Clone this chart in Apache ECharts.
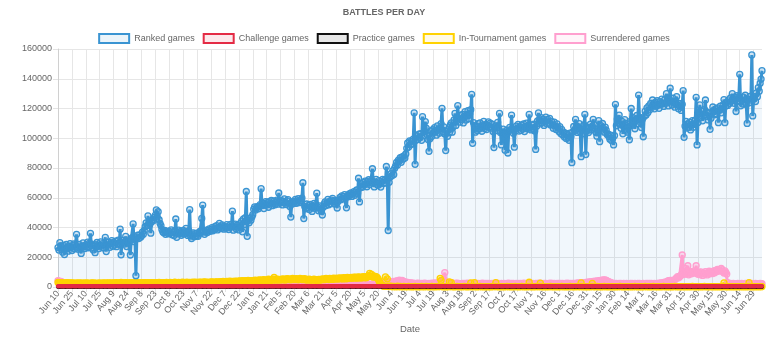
<!DOCTYPE html>
<html>
<head>
<meta charset="utf-8">
<script src="https://cdn.jsdelivr.net/npm/echarts@6/dist/echarts.min.js"></script>
<style>
  html, body { margin: 0; padding: 0; background: #fff; }
  #chart { width: 768px; height: 337px; }
</style>
</head>
<body>
<div id="chart"></div>
<script>
// Daily counts, one value per day starting at Jun 10, 2019.
const firstDay = Date.UTC(2019, 5, 10);
const monthNames = ['Jan', 'Feb', 'Mar', 'Apr', 'May', 'Jun', 'Jul', 'Aug', 'Sep', 'Oct', 'Nov', 'Dec'];
const seriesNames = ['Ranked games', 'Challenge games', 'Practice games', 'In-Tournament games', 'Surrendered games'];

const ranked = [
  26500,24800,29800,27600,25200,23400,27900,21800,26300,28600,25700,24100,27300,29200,26800,
  24500,27800,28900,25600,26800,35400,27200,25300,28700,26100,22600,27400,29600,26900,25800,
  28300,27100,30200,26400,29500,36100,28800,26200,24900,27600,23100,28400,29900,27300,25800,
  28100,30400,27500,29200,26300,28700,33400,23800,27900,30100,28500,26700,29800,31200,27400,
  29600,28200,30800,27100,29300,31500,28600,38900,21600,29800,31400,30200,28900,34100,27200,
  31500,29800,30600,21500,32400,33100,42400,30500,32000,7600,33200,34800,32600,35100,33400,
  34300,36800,35500,38200,40600,43100,41200,47800,44300,42100,36200,43800,45200,44700,46900,
  48300,51800,47100,50600,45200,42800,41300,38600,37200,36500,38100,35400,37600,36900,35800,
  37300,36100,38400,35200,36800,34600,37900,45700,33400,36700,38200,35900,37400,34800,36300,
  38100,35600,37200,39400,36100,34700,37800,52000,34200,32600,35100,36400,33800,35900,34300,
  36200,34100,35600,37300,36800,46100,55100,36900,35400,37100,38200,36600,37900,39100,37400,
  38600,39900,37800,38700,40500,39200,41300,38400,39700,42800,40600,39300,41700,40200,38900,
  40800,39500,41900,40300,38600,39900,42100,40700,51000,38200,40600,42300,39100,41500,40200,
  38400,42600,39800,44300,37100,45800,41900,46700,64200,34100,44800,43200,46300,44900,47100,
  48600,52300,53800,51700,53200,54100,52600,53900,55400,66100,54800,56300,52700,55900,57400,
  55200,56800,53600,57300,55900,58200,54700,56100,57800,55300,56900,58400,55700,63200,57100,
  56400,58100,55200,57600,59300,56800,55400,57900,58700,56200,54100,47000,55800,57300,56100,
  57600,58900,56300,57800,59400,56700,58200,57100,59800,70100,46000,54200,52600,55800,53400,
  54900,52100,55600,53700,50800,54300,56200,52900,55400,63100,53800,51200,54600,52300,50900,
  48400,53600,55900,57200,54800,56600,58900,55300,57700,56100,58400,59600,57300,55800,58100,
  56900,53100,57400,58600,60200,58700,61300,59400,60800,62100,59900,53200,61400,60700,62600,
  61800,63200,60900,62700,64100,61600,63800,65200,62900,73100,57200,66800,69400,67100,70300,
  68600,71200,69300,67400,70800,72100,68900,70400,71700,79500,69800,67300,70600,72400,69100,
  68400,71500,69700,67200,70900,72300,69600,71800,70200,81000,72600,38000,70400,73900,76200,
  74800,78300,75600,79900,81400,83700,82100,85300,84600,86900,83800,87500,85900,88200,86700,
  89400,93200,96800,94100,98300,95700,97900,96200,99400,117100,82500,98700,101600,99200,102800,
  100400,103100,98600,114500,101700,104300,111200,106800,102400,99100,91200,99600,104900,101300,105700,
  103800,107200,104600,102100,108300,105900,103400,106700,109800,120100,104200,107600,102900,91700,104800,
  101300,106200,103700,108900,110400,104100,107500,112300,116700,108600,111900,122000,113400,110800,115200,
  112600,116100,110300,114700,117900,112200,115800,118600,113100,116400,119200,129500,96600,110500,108300,
  104100,107600,105200,109800,106300,110400,108100,104700,107900,111300,106500,109200,105800,108700,111000,
  107400,110200,106800,109500,104600,93700,106900,108300,105100,110700,107200,116700,103900,95500,104200,
  106100,101800,92000,103600,105400,90100,104700,107300,105800,115600,106200,103400,94000,105900,108100,
  106700,109300,104800,107600,105300,108900,106200,109700,104500,107100,110200,106400,108500,116000,107300,
  105600,108800,106300,109400,104900,92500,108100,111600,117000,112300,109700,113800,110400,112900,108600,
  111500,114200,109800,112700,110100,113300,108900,111400,109200,106700,110800,108300,105900,109600,107100,
  104600,107800,103200,105900,102400,104100,100900,103500,99800,102700,100300,98600,103400,101200,83600,
  104300,107900,105100,112700,108400,103900,106700,109800,104200,87600,102800,106100,108900,116100,89000,
  104700,107300,103800,106900,109400,105600,108200,112700,109100,106300,103900,101400,105000,111800,97700,
  108600,105300,109900,106700,104100,107500,105500,102600,103000,101200,99400,102100,98300,100000,95500,
  101800,122800,108400,112900,110200,115600,109300,106800,111400,103000,107700,112500,105400,109900,104100,
  107600,99000,111300,120000,108700,113900,110200,106400,112600,115300,109800,129000,114100,110600,107200,
  112800,101000,114600,118200,115700,120400,117300,121800,119100,123400,120600,125700,122300,119800,124100,
  121500,125200,122600,120100,124600,122900,126300,123100,121400,125800,123600,130000,124200,121700,126500,
  133600,124800,122300,126900,123700,120900,125100,128000,122600,119800,123400,121200,118700,122800,132000,
  100600,108200,111400,106900,109700,107300,110800,105600,108900,111900,107400,109300,112100,127500,95500,
  110600,116800,122400,113900,118200,111700,115600,119300,125700,114800,117500,112300,116900,106000,113400,
  117200,121000,118500,115800,119700,116300,120400,110500,118900,121600,117100,119900,122400,126000,110500,
  121700,124300,122100,125800,123400,127200,124900,130000,126100,123500,127600,118000,128700,124800,127900,
  143000,121800,125400,123100,127600,124300,128900,122700,110000,126200,123800,128100,125600,156000,115000,
  126300,128000,124700,130500,127900,134100,131600,137000,139800,145400
];

const challenge = [
  500,500,600,500,500,500,500,500,600,500,500,500,500,500,500,
  500,600,500,500,500,500,600,500,500,500,500,500,500,600,500,
  500,500,500,500,500,600,500,500,500,600,500,500,500,500,500,
  500,500,500,500,600,500,500,500,600,500,500,500,500,500,500,
  500,500,500,600,500,500,500,500,500,500,600,500,500,500,500,
  600,500,500,500,500,500,500,600,500,500,500,500,600,500,500,
  500,500,600,500,500,500,500,500,500,600,500,500,500,500,600,
  500,500,500,500,500,600,500,500,500,500,500,600,500,500,500,
  500,600,500,500,500,500,500,500,600,500,500,500,500,500,500,
  500,500,500,600,500,500,500,600,500,500,500,500,500,600,500,
  500,500,500,500,500,500,600,500,500,500,600,500,500,500,500,
  600,500,500,500,500,500,500,500,600,500,500,500,500,500,500,
  500,500,600,500,500,600,500,500,500,500,500,500,600,500,500,
  500,500,500,500,600,500,500,500,500,600,500,500,500,500,500,
  500,600,500,500,500,500,500,600,500,500,500,500,500,600,500,
  500,500,500,600,500,500,500,500,500,500,600,500,500,500,500,
  600,500,500,500,500,600,500,500,500,500,500,500,600,500,500,
  500,500,600,500,500,500,500,500,600,500,500,500,500,500,600,
  500,500,500,500,500,600,500,500,500,600,500,500,500,500,500,
  500,600,500,500,500,500,500,500,500,500,600,500,500,600,500,
  500,500,500,600,500,500,500,600,500,500,500,500,500,500,500,
  600,500,500,500,500,500,600,500,500,500,500,600,500,500,500,
  500,500,600,500,500,500,500,500,500,600,500,500,500,500,600,
  500,500,500,500,600,500,500,500,500,500,500,600,500,500,500,
  500,600,500,500,500,500,600,500,500,500,500,500,500,600,500,
  500,500,500,600,500,500,500,500,600,500,500,500,500,500,500,
  600,500,500,500,500,500,500,600,500,500,500,600,500,500,500,
  500,500,600,500,500,500,500,500,500,500,600,500,500,500,600,
  500,500,500,500,600,500,500,500,600,500,500,500,500,500,500,
  500,600,500,500,500,500,500,600,500,500,500,500,600,500,500,
  500,500,500,600,500,500,500,500,500,600,500,500,500,500,500,
  600,500,500,500,500,600,500,500,500,500,500,600,500,500,500,
  500,500,600,500,500,500,500,600,500,500,500,500,500,500,600,
  500,500,500,500,600,500,500,500,500,500,600,500,500,500,500,
  500,600,500,500,500,500,600,500,500,500,500,500,600,500,500,
  500,500,500,600,500,500,500,500,600,500,500,500,500,500,500,
  600,500,500,500,500,500,500,600,500,500,600,500,500,500,500,
  500,500,600,500,500,600,500,500,500,500,500,500,500,600,500,
  500,500,500,500,600,500,500,500,500,600,500,500,500,500,500,
  500,600,500,500,500,500,500,600,500,500,500,500,600,500,500,
  500,500,500,600,500,500,500,500,500,500,600,500,500,500,600,
  600,500,500,500,500,600,500,500,500,500,500,500,600,500,500,
  500,500,600,500,500,500,500,600,500,500,500,600,500,500,500,
  500,500,500,500,600,500,500,500,500,600,500,500,500,500,500,
  500,600,500,500,500,500,600,500,500,500,500,500,500,600,500,
  500,500,500,600,500,500,500,500,600,500,500,500,500,500,500,
  600,500,500,500,500,500,500,600,500,500,600,500,500,500,500,
  500,500,600,500,500,500,500,500,500,500,500,600,500,500,500,
  500,500,500,500,600,500,500,500,600,500,500,500,500,600,500,
  500,600,500,500,500,500,500,500,500,600,500,500,500,500,500,
  500,500,500,600,500,500,500,500,500,500
];

const practice = [
  100,100,200,100,100,100,200,100,100,100,200,100,100,200,100,
  100,200,100,100,100,200,100,100,200,100,100,100,200,100,100,
  200,100,100,100,200,100,100,200,100,100,100,200,100,100,100,
  100,100,200,100,100,200,100,100,100,200,100,100,100,200,100,
  100,200,100,100,100,100,200,100,100,200,100,100,200,100,100,
  200,100,100,200,100,100,100,200,100,100,100,200,100,100,200,
  100,100,100,200,100,100,200,100,100,100,200,100,100,200,100,
  100,200,100,100,200,100,100,100,200,100,100,100,200,100,100,
  200,100,100,100,100,200,100,100,200,100,100,200,100,100,100,
  100,100,200,100,100,100,200,100,100,200,100,100,100,200,100,
  100,200,100,100,200,100,100,100,100,200,100,100,200,100,100,
  200,100,100,100,200,100,100,200,100,100,100,200,100,100,200,
  100,100,200,100,100,200,100,100,100,200,100,100,100,200,100,
  100,200,100,100,100,100,200,100,100,200,100,100,200,100,100,
  200,100,100,200,100,100,100,200,100,100,200,100,100,100,200,
  100,100,100,200,100,100,200,100,100,100,100,200,100,100,100,
  100,200,100,100,200,100,100,100,200,100,100,200,100,100,200,
  200,100,100,100,100,200,100,100,200,100,100,100,200,100,100,
  100,100,200,100,100,100,200,100,100,200,100,100,100,200,100,
  100,200,100,100,200,100,100,200,100,100,100,100,200,100,100,
  200,100,100,100,200,100,100,100,200,100,100,200,100,100,100,
  100,100,200,100,100,200,100,100,100,200,100,100,200,100,200,
  100,200,100,100,100,100,200,100,100,100,200,100,100,100,100,
  200,100,100,200,100,100,100,200,100,100,100,200,100,100,200,
  100,100,100,200,100,100,200,100,100,200,100,100,100,200,100,
  100,200,100,100,200,100,100,100,100,200,100,100,200,100,100,
  200,100,100,100,100,200,100,100,200,100,100,100,200,100,100,
  100,100,200,100,100,100,200,100,100,200,100,100,100,200,100,
  100,200,100,100,200,100,100,200,100,100,100,200,100,100,200,
  200,100,100,100,100,200,100,100,100,200,100,100,100,100,100,
  100,100,200,100,100,200,100,100,200,100,100,100,200,100,100,
  100,200,100,100,100,100,200,100,100,100,200,100,100,200,100,
  200,100,100,200,100,100,100,200,100,100,100,200,100,100,100,
  100,100,100,200,100,100,200,100,100,200,100,100,200,100,100,
  100,200,100,100,200,100,100,100,200,100,100,100,100,200,100,
  200,100,100,100,100,200,100,100,100,200,100,100,200,100,100,
  100,100,200,100,100,100,200,100,100,100,200,100,100,100,200,
  100,200,100,100,200,100,100,200,100,100,100,200,100,100,100,
  200,100,100,100,100,200,100,100,200,100,100,100,200,100,100,
  100,100,200,100,100,100,200,100,100,200,100,100,100,200,100,
  100,200,100,100,200,100,100,100,100,200,100,100,200,100,100,
  200,100,100,100,200,100,100,200,100,100,100,200,100,100,200,
  100,100,200,100,100,200,100,100,100,200,100,100,100,100,100,
  100,200,100,100,100,100,200,100,100,100,200,100,100,200,100,
  200,100,100,200,100,100,100,200,100,100,100,200,100,100,100,
  100,100,100,200,100,100,200,100,100,200,100,100,200,100,100,
  100,200,100,100,200,100,100,100,200,100,100,100,100,200,100,
  200,100,100,100,100,200,100,100,100,200,100,100,200,100,100,
  100,100,200,100,100,100,200,100,100,100,200,100,100,100,200,
  100,200,100,100,200,100,100,200,100,100,100,200,100,100,100,
  200,100,100,100,100,200,100,100,200,100
];

const tournament = [
  3100,2800,2600,2900,2700,2500,2800,2600,2400,2700,2900,2600,2500,2800,2700,
  2600,2400,2700,2500,2300,2600,2800,2500,2400,2700,2600,2300,2500,2700,2400,
  2500,2700,2400,2600,2300,2500,2800,2600,2400,2700,2500,2300,2600,2400,2500,
  2700,2500,2300,2600,2800,2500,2400,2700,2600,2400,2800,2500,2700,2400,2600,
  2800,2600,2500,2900,2700,2400,2600,2800,3100,2700,2500,2800,2600,2900,2700,
  2600,2800,2500,2700,2900,2600,2400,2800,3000,2700,2500,2900,2700,2600,2800,
  2700,2900,2600,2800,3000,2700,2500,2900,2800,2600,3000,2700,2900,2600,2800,
  3000,2800,2600,2900,3100,2700,2900,2600,2800,3000,2700,2900,3100,2800,2600,
  2900,3100,2800,3000,2700,2900,3200,2800,3000,2700,3100,2900,2800,3000,3200,
  2900,3100,2800,3000,3300,2900,2700,3100,3000,2800,3200,2900,3100,3300,3000,
  3100,2900,3200,3000,3300,3100,2900,3200,3400,3000,3200,3100,2900,3300,3100,
  3200,3400,3100,3300,3000,3500,3200,3400,3100,3300,3600,3200,3400,3700,3300,
  3500,3300,3700,3400,3600,3900,3500,3700,3400,3800,3600,4000,3700,3500,3900,
  3800,4100,3700,3900,4200,3800,4000,4300,3900,4100,4400,4000,4200,3900,4300,
  4100,4400,4200,4600,4300,4100,4500,4800,4400,4200,4700,4500,4900,4300,4600,
  4400,4800,5200,4600,4900,4500,5100,4700,6400,5000,4600,5300,4800,5100,4700,
  4900,5300,4800,5500,5000,4700,5200,5600,4900,5400,5100,4800,5300,5700,5000,
  5400,5000,5600,5200,4800,5300,5700,5100,5500,4900,5200,5600,5000,4700,5100,
  4800,5200,4700,5000,4600,4900,5300,4800,4500,5000,4700,5100,4600,4900,5200,
  5000,5400,4900,5300,5700,5100,5500,5000,5800,5300,5600,5100,5900,5400,5700,
  5500,5900,5300,5800,6200,5600,6000,5400,6300,5700,6100,5500,6400,5900,6200,
  6000,6500,5800,6300,6700,6100,6600,5900,6400,6800,6200,6700,6000,6500,6900,
  6300,6800,6200,6600,7100,7600,9200,7200,8400,7000,6600,7300,6800,7000,6500,
  5600,4200,3100,2000,1200,800,600,500,6800,400,5500,600,300,400,500,
  300,200,400,300,200,300,500,200,300,400,200,300,200,400,300,
  200,300,200,400,300,200,300,200,300,200,400,300,200,300,200,
  300,200,400,200,300,200,300,400,200,300,200,300,200,400,300,
  200,300,200,300,400,200,300,5800,4500,300,200,300,200,300,200,
  300,200,3500,300,3000,200,300,200,300,200,400,300,200,300,200,
  300,200,300,400,200,300,200,300,200,300,2800,200,300,200,3000,
  200,300,200,300,200,400,300,200,300,200,300,200,300,200,300,
  200,300,200,300,200,400,300,3000,200,300,200,300,200,300,200,
  300,200,300,200,400,300,200,300,200,300,200,300,200,400,300,
  200,300,200,300,200,400,300,200,300,200,300,200,300,3200,200,
  300,200,300,200,300,200,400,300,200,300,2600,200,300,200,300,
  200,300,200,300,200,300,400,200,300,200,300,200,300,200,300,
  200,300,200,400,300,200,300,200,300,200,300,200,400,300,200,
  300,200,300,200,300,400,200,300,200,2800,300,200,300,200,300,
  200,300,200,300,200,300,2500,200,300,200,300,400,200,300,200,
  300,200,300,200,400,300,200,300,200,300,200,300,200,300,200,
  200,300,200,300,200,300,400,200,300,200,300,200,300,200,300,
  300,200,300,200,300,200,300,400,200,300,200,300,200,300,200,
  200,300,200,400,300,200,300,200,300,200,300,200,400,300,200,
  300,200,300,200,300,200,300,200,400,300,200,300,200,300,200,
  200,300,200,300,200,400,300,200,300,200,300,200,300,200,300,
  300,200,300,200,300,200,300,200,300,400,200,300,200,300,200,
  200,300,200,300,200,300,200,400,300,200,300,200,300,200,300,
  300,200,300,200,300,200,300,200,300,200,300,200,300,2800,300,
  200,200,300,200,300,200,300,200,300,200,300,200,300,200,300,
  300,200,300,200,300,200,300,200,300,200,3000,200,300,200,300,
  200,300,200,300,200,300,200,300,200,300
];

const surrendered = [
  4200,3900,3600,3800,3400,3100,2700,2400,2200,2000,1900,2100,1800,1700,1900,
  1800,1600,1900,1700,1800,2000,1700,1600,1800,1900,1700,1800,1600,1900,1700,
  1700,1900,1600,1800,1700,1900,1800,1600,1700,1900,1800,1700,1600,1800,1900,
  1600,1800,1700,1900,1600,1800,1700,1900,1800,1600,1700,1800,1900,1700,1600,
  1800,1700,1900,1600,1800,1700,1600,1900,1800,1700,1900,1600,1800,1700,1800,
  1700,1900,1800,1600,1700,1900,1800,1700,1600,1800,1700,1900,1600,1800,1700,
  1900,1600,1800,1700,1900,1800,1600,1700,1800,1900,1700,1600,1800,1900,1700,
  1600,1800,1900,1700,1600,1800,1700,1900,1600,1800,1900,1700,1800,1600,1800,
  1800,1700,1600,1900,1800,1700,1900,1600,1800,1700,1600,1800,1900,1700,1600,
  1700,1900,1800,1600,1700,1800,1600,1900,1700,1800,1900,1700,1600,1800,1700,
  1900,1700,1600,1800,1900,1700,1800,1600,1700,1900,1800,1600,1700,1800,1900,
  1600,1800,1700,1900,1600,1700,1800,1900,1600,1800,1700,1900,1800,1700,1600,
  1800,1600,1900,1700,1800,1600,1700,1800,1900,1700,1600,1800,1700,1900,1800,
  1700,1800,1600,1900,1700,1800,1900,1700,1600,1800,1900,1700,1600,1800,1700,
  1900,1700,1800,1600,1800,1900,1700,1600,1800,1700,1800,1900,1700,1600,1900,
  1600,1900,1700,1800,1600,1700,1900,1800,1700,1600,1800,1700,1900,1800,1600,
  1800,1700,1600,1900,1700,1800,1600,1700,1900,1800,1700,1600,1800,1900,1700,
  1700,1800,1900,1600,1800,1700,1800,1900,1700,1600,1900,1800,1700,1600,1800,
  1900,1600,1800,1700,1900,1800,1700,1600,1800,1900,1700,1800,1600,1700,1900,
  1600,1800,1700,1900,1800,1600,1900,1700,1800,1700,1600,1900,1800,1700,1800,
  1800,1700,1900,1600,1700,1900,1800,1700,1600,1800,1900,1700,1800,1600,1700,
  1700,1900,1600,1800,1900,1700,1600,1800,1700,1900,1800,1600,1700,1900,1800,
  1900,1700,1800,1600,1800,1700,1900,1800,1700,1600,1800,1900,1700,1800,2000,
  2300,2600,2400,2800,2500,2900,2700,3100,2800,3000,3300,2900,3200,3500,3100,
  3400,3700,3200,3600,3900,3500,4200,3800,4600,4100,3700,4400,3900,3600,3300,
  3000,3200,2800,2600,2900,2500,2700,2400,2600,2300,2500,2200,2400,2600,2300,
  2500,2200,2400,2100,2300,2600,2200,2400,2000,2300,2500,2100,2300,2600,2200,
  2400,2700,2300,2500,2800,2400,2600,3100,2900,3400,4100,5200,9700,3600,2800,
  2500,2300,2600,2200,2400,2700,2300,2500,2100,2400,2600,2200,2500,2300,2100,
  2300,2500,2200,2400,2000,2300,2600,2200,2400,2100,2300,2500,2200,2000,2300,
  2200,2400,2100,2500,2300,2000,2400,2200,2600,2300,2100,2400,2200,2500,2300,
  2400,2100,2300,2500,2200,2400,2000,2300,2600,2200,2400,2100,2300,2500,2200,
  2300,2500,2200,2000,2400,2300,2600,2100,2300,2400,2200,2500,2300,2100,2400,
  2100,2300,2500,2200,2400,2100,2300,2600,2200,2400,2300,2100,2500,2200,2400,
  2500,2200,2400,2300,2100,2500,2200,2400,2300,2600,2200,2400,2100,2300,2500,
  2200,2400,2100,2300,2500,2200,2600,2300,2400,2200,2500,2300,2100,2400,2200,
  2400,2300,2500,2200,2400,2100,2300,2500,2200,2600,2300,2400,2200,2500,2300,
  2400,2200,2500,2300,2600,2400,2700,2500,2800,2600,2900,2700,3000,2800,3100,
  3000,3300,3100,3400,3200,3600,3300,3700,3500,3900,3600,4100,3800,4300,4000,
  4400,4200,4600,4700,4400,4800,4500,4100,3800,3500,3200,2900,2700,2500,2300,
  2400,2200,2500,2300,2100,2400,2200,2500,2300,2100,2400,2200,2300,2500,2200,
  2300,2100,2400,2200,2500,2300,2100,2400,2200,2300,2500,2200,2400,2100,2300,
  2200,2400,2300,2100,2500,2200,2400,2300,2500,2200,2400,2100,2300,2500,2200,
  2300,2500,2200,2600,2400,2700,2500,2900,2700,3200,3000,3500,3800,4200,3900,
  4500,4100,4400,3800,4300,4800,5600,6100,7000,6200,6800,7500,8100,21500,8400,
  9100,12600,8700,9400,14300,8200,9600,10300,8900,9800,10700,9300,10100,14300,9700,
  8600,9900,8300,10200,9100,7800,9500,8700,10400,9200,8100,9700,10600,8900,9400,
  10100,9000,10800,9600,11200,10400,11900,10700,11300,10900,12500,11600,10200,9400,10800,
  9800,8700,2900,2400,2200,2500,2300,2100,2400,2200,2000,2300,2100,2400,2200,
  2300,2100,2400,2200,2000,2300,2500,2200,2100,2400,2200,2300,2100,2400,2200,
  2300,2100,2400,2200,2000,2300,2100,2400,2200,2300
];

// Day labels ("Jun 10", "Jun 11", ...) for the category axis
const dayLabels = ranked.map((_, i) => {
  const d = new Date(firstDay + i * 86400000);
  return monthNames[d.getUTCMonth()] + ' ' + d.getUTCDate();
});

const palette = {
  'Ranked games':        { line: '#3a94d2', fill: 'rgba(58,148,210,0.1)', point: 'rgba(58,148,210,0.25)', size: 6, width: 3 },
  'Challenge games':     { line: '#e42b45', fill: 'rgba(228,43,69,0.1)', point: 'rgba(228,43,69,0.3)', size: 3, width: 2.6 },
  'Practice games':      { line: '#111111', fill: 'rgba(17,17,17,0.1)', point: 'rgba(17,17,17,0.3)', size: 3, width: 2.6 },
  'In-Tournament games': { line: '#ffd200', fill: 'rgba(255,210,0,0.1)', point: 'rgba(255,210,0,0.35)', size: 6, width: 3 },
  'Surrendered games':   { line: '#ff9fcf', fill: 'rgba(255,159,207,0.1)', point: 'rgba(255,159,207,0.35)', size: 6, width: 3 }
};
const dataByName = {
  'Ranked games': ranked,
  'Challenge games': challenge,
  'Practice games': practice,
  'In-Tournament games': tournament,
  'Surrendered games': surrendered
};

function lineSeries(name) {
  const c = palette[name];
  return {
    name: name,
    type: 'line',
    data: dataByName[name],
    showAllSymbol: true,
    symbol: 'circle',
    symbolSize: c.size,
    lineStyle: { color: c.line, width: c.width },
    itemStyle: { color: c.point, borderColor: c.line, borderWidth: 1.3 },
    areaStyle: { color: c.fill },
    emphasis: { disabled: true }
  };
}

const font = '"Liberation Sans", Arial, Helvetica, sans-serif';
const chart = echarts.init(document.getElementById('chart'), null, { renderer: 'canvas' });

chart.setOption({
  animation: false,
  textStyle: { fontFamily: font },
  title: {
    text: 'BATTLES PER DAY',
    left: 'center',
    top: 3,
    textStyle: { fontSize: 9, fontWeight: 'bold', color: '#666', fontFamily: font }
  },
  legend: {
    top: 28,
    left: 'center',
    itemWidth: 30,
    itemHeight: 9,
    itemGap: 8,
    textStyle: { fontSize: 9, color: '#666', fontFamily: font },
    data: seriesNames.map(n => ({
      name: n,
      icon: 'rect',
      itemStyle: { color: palette[n].fill, borderColor: palette[n].line, borderWidth: 2 }
    }))
  },
  grid: { left: 58, right: 6, top: 49, bottom: 50, containLabel: false, outerBoundsMode: 'none' },
  xAxis: {
    type: 'category',
    data: dayLabels,
    boundaryGap: false,
    name: 'Date',
    nameLocation: 'middle',
    nameGap: 37,
    nameTextStyle: { fontSize: 9.5, color: '#666', fontFamily: font },
    axisLine: { lineStyle: { color: '#d0d0d0' } },
    axisTick: { interval: 14, length: 5, lineStyle: { color: '#e3e3e3' } },
    axisLabel: { interval: 14, rotate: 50, fontSize: 9, color: '#666', margin: 5, fontFamily: font },
    splitLine: { show: true, interval: 14, lineStyle: { color: '#e6e6e6' } }
  },
  yAxis: {
    type: 'value',
    min: 0,
    max: 160000,
    interval: 20000,
    axisLine: { show: true, lineStyle: { color: '#d0d0d0' } },
    axisTick: { show: true, length: 5, lineStyle: { color: '#e3e3e3' } },
    axisLabel: { fontSize: 9, color: '#666', margin: 6, fontFamily: font, formatter: v => String(v) },
    splitLine: { lineStyle: { color: '#e6e6e6' } }
  },
  // Drawn back to front so the first legend entry ends up on top
  series: seriesNames.slice().reverse().map(lineSeries)
});
</script>
</body>
</html>
